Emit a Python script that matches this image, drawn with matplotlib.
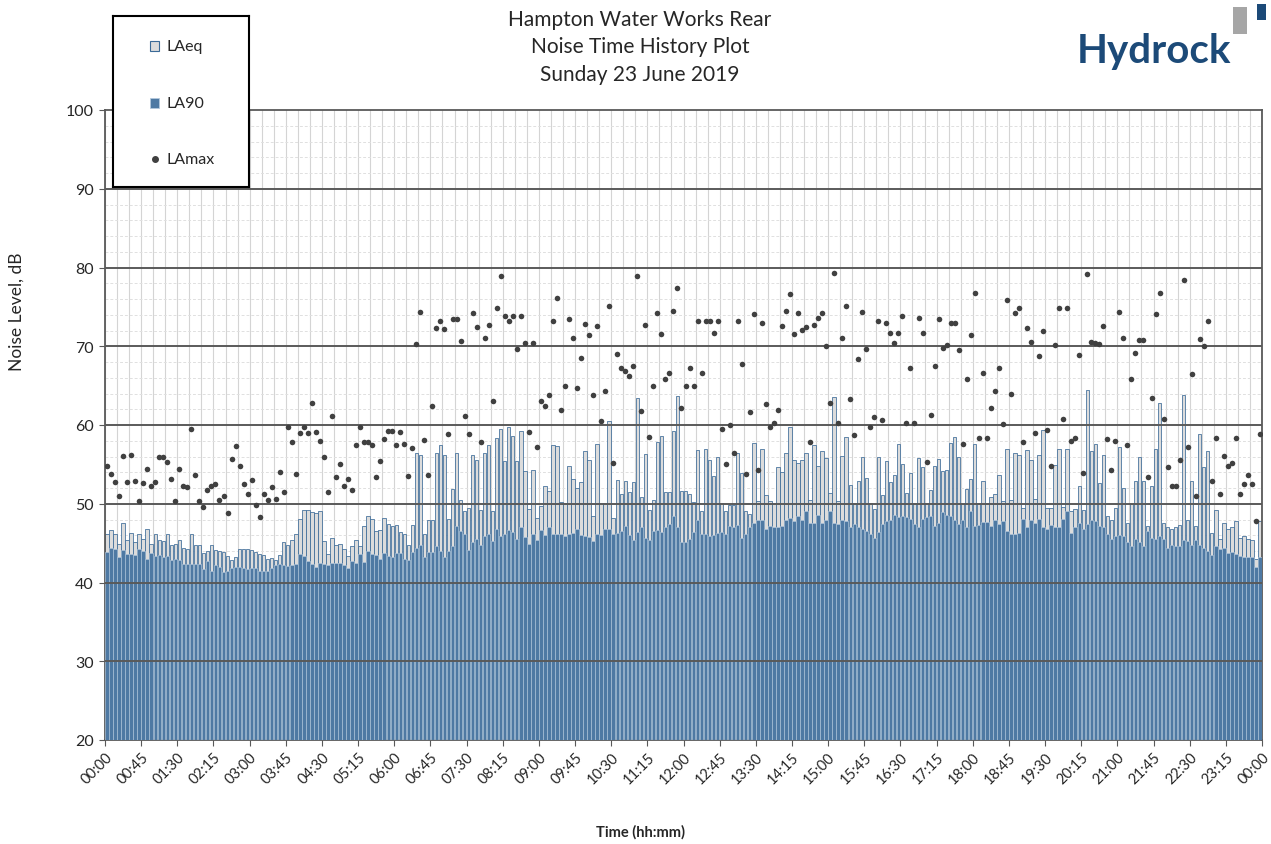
import numpy as np
import matplotlib
matplotlib.use('Agg')
import matplotlib.pyplot as plt
from matplotlib.patches import Rectangle

plt.rcParams['font.family'] = ['Lato', 'DejaVu Sans']

# 5-minute values, one row per hour
laeq = [
    46.1, 46.7, 46.2, 44.9, 47.5, 45.4, 46.3, 45.1, 46.2, 45.5, 46.8, 44.9,
    46.1, 45.4, 45.3, 46.1, 44.7, 44.9, 45.4, 44.4, 44.3, 46.2, 44.7, 44.7,
    43.8, 44.0, 44.7, 44.1, 44.0, 43.9, 43.4, 42.8, 43.3, 44.3, 44.2, 44.3,
    44.1, 43.9, 43.6, 43.5, 43.0, 43.1, 42.8, 43.5, 45.1, 44.7, 45.4, 46.1,
    48.1, 49.2, 49.2, 49.0, 48.8, 49.1, 45.3, 43.6, 45.6, 44.7, 44.9, 44.3,
    43.4, 44.6, 45.4, 44.6, 47.2, 48.4, 48.1, 46.5, 46.7, 48.2, 47.4, 47.2,
    47.3, 46.4, 46.2, 44.7, 47.3, 56.5, 56.2, 46.1, 48.0, 48.0, 56.5, 57.4,
    56.2, 48.1, 51.9, 56.5, 50.5, 49.1, 49.5, 56.2, 55.6, 49.2, 56.5, 57.4,
    49.1, 58.4, 59.5, 55.4, 59.8, 58.6, 55.4, 59.2, 54.1, 49.3, 54.3, 48.2,
    49.7, 52.2, 51.6, 57.4, 57.3, 50.2, 50.1, 54.8, 53.2, 52.0, 52.7, 56.7,
    55.5, 48.4, 57.6, 50.1, 50.1, 60.5, 48.2, 53.0, 51.3, 52.9, 51.5, 52.7,
    63.4, 50.8, 56.3, 49.2, 50.5, 57.9, 58.6, 51.5, 51.5, 59.3, 63.7, 51.6,
    51.6, 51.2, 50.2, 56.8, 49.1, 56.9, 55.6, 53.5, 56.0, 50.1, 49.1, 49.9,
    49.8, 56.5, 53.9, 49.1, 48.7, 57.7, 50.3, 56.9, 51.1, 50.4, 50.1, 54.7,
    54.0, 56.4, 59.7, 55.6, 55.2, 55.5, 56.5, 50.5, 57.4, 54.8, 56.7, 55.8,
    51.4, 63.5, 50.3, 56.1, 58.5, 52.4, 50.1, 52.9, 55.9, 53.3, 50.1, 49.3,
    55.9, 51.1, 55.4, 52.7, 53.6, 57.6, 55.0, 51.4, 53.9, 50.1, 55.8, 54.7,
    50.1, 51.8, 54.8, 55.7, 54.1, 54.3, 57.7, 58.5, 55.9, 50.0, 51.9, 53.1,
    57.6, 50.1, 52.9, 50.1, 50.8, 51.3, 53.6, 50.3, 56.9, 50.5, 56.5, 56.2,
    49.5, 56.8, 55.5, 50.6, 56.2, 59.4, 49.4, 49.5, 54.9, 56.9, 49.6, 57.0,
    49.1, 49.3, 52.3, 49.2, 64.4, 56.7, 57.6, 52.6, 56.2, 48.5, 48.0, 49.4,
    57.2, 52.0, 47.5, 50.0, 52.9, 55.9, 52.9, 47.2, 52.2, 56.9, 62.8, 47.5,
    47.0, 46.8, 47.0, 47.3, 63.8, 48.0, 52.9, 47.2, 58.8, 54.7, 56.7, 46.3,
    49.2, 45.5, 47.6, 46.8, 47.0, 47.8, 45.7, 45.9, 45.5, 45.4, 43.0, 47.8,
]

la90 = [
    43.9, 44.4, 44.2, 43.2, 44.1, 43.6, 43.6, 43.5, 44.3, 44.0, 43.0, 43.8,
    43.4, 43.5, 43.2, 43.4, 42.8, 43.0, 42.8, 42.3, 42.3, 42.3, 42.3, 42.3,
    41.7, 42.7, 41.5, 42.2, 42.0, 41.3, 41.4, 41.9, 42.0, 42.0, 41.9, 41.7,
    41.9, 41.8, 41.5, 41.4, 41.5, 41.8, 42.2, 42.4, 42.2, 42.1, 42.2, 42.3,
    43.6, 43.4, 42.7, 42.3, 42.0, 42.5, 42.3, 42.2, 42.5, 42.5, 42.5, 42.2,
    41.9, 42.7, 42.5, 43.6, 42.6, 44.0, 43.6, 43.5, 43.0, 43.7, 43.4, 43.2,
    43.7, 43.7, 43.0, 42.9, 43.9, 44.4, 44.7, 43.2, 43.9, 43.9, 44.6, 44.0,
    43.2, 44.0, 44.6, 47.2, 46.6, 46.1, 44.1, 45.1, 45.5, 44.7, 45.9, 46.2,
    45.3, 46.8, 45.9, 46.1, 46.7, 46.4, 45.5, 47.0, 45.8, 44.9, 46.1, 45.4,
    46.7, 46.0, 47.0, 46.1, 46.2, 46.1, 45.9, 46.2, 46.3, 46.8, 46.0, 45.9,
    45.8, 45.3, 46.2, 46.0, 46.8, 46.8, 46.2, 46.3, 46.5, 47.2, 46.0, 45.4,
    46.4, 47.0, 45.7, 45.4, 46.5, 46.7, 46.4, 47.0, 47.4, 48.5, 47.0, 45.1,
    45.1, 45.5, 46.4, 48.0, 46.2, 46.2, 45.9, 46.0, 46.3, 46.4, 46.2, 47.2,
    47.0, 47.3, 45.6, 46.1, 47.0, 47.6, 48.0, 48.0, 46.8, 47.2, 47.1, 47.0,
    47.2, 47.9, 48.2, 47.8, 48.5, 48.0, 49.1, 47.6, 47.6, 48.6, 47.6, 48.0,
    49.1, 47.6, 47.4, 47.9, 47.8, 47.0, 47.4, 47.0, 46.8, 46.5, 46.2, 45.7,
    46.4, 47.4, 47.8, 48.0, 48.6, 48.3, 48.5, 48.3, 48.1, 47.4, 47.1, 48.1,
    48.3, 48.4, 47.2, 47.6, 49.0, 48.6, 48.5, 48.0, 47.4, 48.0, 47.1, 49.1,
    47.2, 47.3, 47.7, 47.7, 47.2, 48.0, 47.4, 47.8, 46.5, 46.2, 46.2, 46.3,
    48.1, 47.0, 48.0, 47.5, 48.1, 47.0, 46.8, 47.3, 47.0, 47.0, 48.1, 49.1,
    46.3, 47.0, 47.6, 46.8, 47.4, 47.9, 47.8, 47.2, 47.1, 46.2, 45.5, 45.9,
    46.0, 45.9, 45.1, 44.6, 45.5, 45.1, 44.6, 46.6, 45.7, 45.5, 45.9, 45.5,
    44.4, 44.7, 44.6, 44.6, 45.4, 45.3, 44.8, 45.4, 44.8, 44.4, 44.0, 43.5,
    44.6, 44.2, 44.4, 43.8, 43.9, 43.6, 43.4, 43.2, 43.3, 43.3, 42.0, 43.2,
]

lamax = [
    54.8, 53.8, 52.7, 51.0, 56.1, 52.7, 56.2, 52.9, 50.3, 52.6, 54.4, 52.3,
    52.7, 56.0, 55.9, 55.3, 53.2, 50.4, 54.4, 52.2, 52.1, 59.5, 53.6, 50.3,
    49.6, 51.8, 52.2, 52.5, 50.5, 51.0, 48.8, 55.7, 57.3, 54.8, 52.5, 51.2,
    53.0, 49.8, 48.3, 51.3, 50.5, 52.1, 50.6, 54.0, 51.5, 59.7, 57.8, 53.8,
    59.0, 59.7, 59.0, 62.8, 59.1, 58.0, 55.9, 51.5, 61.1, 53.4, 55.0, 52.2,
    53.1, 51.8, 57.5, 59.8, 57.8, 57.8, 57.5, 53.4, 55.4, 58.2, 59.2, 59.2,
    57.4, 59.1, 57.6, 53.5, 57.1, 70.3, 74.4, 58.1, 53.7, 62.4, 72.3, 73.2,
    72.2, 58.8, 73.5, 73.5, 70.7, 61.2, 58.9, 74.2, 72.5, 57.9, 71.1, 72.7,
    63.0, 74.9, 78.9, 73.9, 73.2, 73.9, 69.7, 73.9, 70.4, 59.1, 70.4, 57.2,
    63.1, 62.4, 63.8, 73.2, 76.1, 61.9, 64.9, 73.4, 71.1, 64.7, 68.5, 72.8,
    71.4, 63.8, 72.6, 60.5, 64.3, 75.1, 55.2, 69.0, 67.3, 66.9, 66.2, 67.5,
    78.9, 61.8, 72.7, 58.5, 65.0, 74.2, 71.5, 65.8, 66.6, 74.5, 77.4, 62.1,
    64.9, 67.3, 65.0, 73.2, 66.6, 73.2, 73.2, 71.7, 73.2, 59.5, 55.1, 60.0,
    56.5, 73.2, 67.8, 53.8, 61.7, 74.1, 54.3, 73.0, 62.7, 59.8, 60.3, 61.9,
    72.6, 74.5, 76.6, 71.5, 74.2, 72.1, 72.4, 57.8, 72.7, 73.6, 74.2, 70.0,
    62.8, 79.3, 60.3, 71.1, 75.1, 63.3, 58.7, 68.4, 74.3, 69.7, 59.7, 61.0,
    73.2, 60.6, 72.9, 71.7, 70.4, 71.7, 73.8, 60.3, 67.3, 60.3, 73.6, 71.7,
    55.3, 61.3, 67.5, 73.4, 69.8, 70.1, 73.0, 72.9, 69.5, 57.6, 65.8, 71.4,
    76.8, 58.4, 66.6, 58.4, 62.2, 64.3, 67.3, 60.1, 75.9, 63.9, 74.2, 74.9,
    57.8, 72.3, 70.6, 59.0, 68.7, 71.9, 59.4, 54.8, 70.2, 74.9, 60.8, 74.9,
    58.0, 58.4, 68.9, 53.9, 79.2, 70.6, 70.4, 70.3, 72.6, 58.2, 54.3, 58.0,
    74.4, 71.1, 57.5, 65.9, 69.1, 70.8, 70.8, 53.4, 63.4, 74.1, 76.8, 60.8,
    54.7, 52.2, 52.3, 55.5, 78.4, 57.2, 66.5, 51.0, 70.9, 70.0, 73.2, 52.9,
    58.4, 51.2, 56.1, 54.8, 55.2, 58.4, 51.2, 52.5, 53.6, 52.5, 47.8, 58.8,
]

time_labels = ['00:00', '00:45', '01:30', '02:15', '03:00', '03:45', '04:30',
               '05:15', '06:00', '06:45', '07:30', '08:15', '09:00', '09:45',
               '10:30', '11:15', '12:00', '12:45', '13:30', '14:15', '15:00',
               '15:45', '16:30', '17:15', '18:00', '18:45', '19:30', '20:15',
               '21:00', '21:45', '22:30', '23:15', '00:00']

W, H = 1271, 845
fig = plt.figure(figsize=(W / 100, H / 100), dpi=100)
ax = fig.add_axes([105 / W, 1 - 741 / H, 1157 / W, 630 / H])

base = 20
x = np.arange(len(laeq)) + 0.5
ax.bar(x, np.array(laeq) - base, bottom=base, width=0.85,
       color='#dcdcdc', edgecolor='#3b6a97', linewidth=0.55, zorder=2)
ax.bar(x, np.array(la90) - base, bottom=base, width=0.85,
       color='#4e79a3', edgecolor='#b3c8dc', linewidth=0.45, zorder=3)
ax.scatter(x, lamax, s=16, color='#404040', linewidths=0, zorder=6)

ax.set_xlim(0, len(laeq))
ax.set_ylim(20, 100)

# grid
ax.set_yticks(range(20, 101, 10))
ax.set_yticks(range(20, 101, 2), minor=True)
ax.set_xticks(np.arange(0, len(laeq) + 1, 9))
ax.set_xticks(np.arange(0, len(laeq) + 1, 3), minor=True)
ax.set_axisbelow(True)
ax.grid(axis='x', which='both', color='#d4d4d4', linewidth=0.8)
ax.grid(axis='y', which='minor', color='#e0e0e0', linewidth=0.7,
        linestyle=(0, (3, 2)))
for v in range(30, 100, 10):
    ax.axhline(v, color='#5a5a5a', linewidth=1.4, zorder=4)

for s in ax.spines.values():
    s.set_color('#595959')
    s.set_linewidth(1.3)

ax.set_xticklabels(time_labels, rotation=45, ha='right',
                   rotation_mode='anchor', fontsize=10.5, color='#262626')
ax.tick_params(axis='x', which='major', length=4, color='#595959', pad=3)
ax.tick_params(axis='x', which='minor', length=0)
ax.tick_params(axis='y', which='major', length=4, color='#595959',
               labelsize=11.5, labelcolor='#262626', pad=4)
ax.tick_params(axis='y', which='minor', length=0)

fig.text(17 / W, 1 - 312 / H, 'Noise Level, dB', rotation=90,
         ha='center', va='center', fontsize=12.5, color='#262626')
fig.text(640 / W, 1 - 832 / H, 'Time (hh:mm)', ha='center', va='center',
         fontsize=10.5, fontweight='bold', color='#262626')

# title
for txt, yp in [('Hampton Water Works Rear', 20),
                ('Noise Time History Plot', 47),
                ('Sunday 23 June 2019', 75)]:
    fig.text(640 / W, 1 - yp / H, txt, ha='center', va='center',
             fontsize=15, color='#262626')

# legend box
lax = fig.add_axes([113 / W, 1 - 188 / H, 136 / W, 171 / H])
lax.set_xlim(0, 136)
lax.set_ylim(171, 0)
lax.set_xticks([])
lax.set_yticks([])
for s in lax.spines.values():
    s.set_color('black')
    s.set_linewidth(1.5)
lax.add_patch(Rectangle((37, 25), 9, 10, facecolor='#dcdcdc',
                        edgecolor='#3b6a97', linewidth=0.8))
lax.text(53, 30, 'LAeq', va='center', fontsize=11.5, color='#262626')
lax.add_patch(Rectangle((37, 82), 9, 10, facecolor='#4e79a3',
                        edgecolor='#b3c8dc', linewidth=0.6))
lax.text(53, 87, 'LA90', va='center', fontsize=11.5, color='#262626')
lax.plot([41.5], [143], 'o', color='#404040', markersize=4)
lax.text(53, 143, 'LAmax', va='center', fontsize=11.5, color='#262626')

# logo
fig.text(1154 / W, 1 - 52 / H, 'Hydrock', ha='center', va='center',
         fontsize=29, fontweight='bold', color='#1c4a78')
fig.patches.append(Rectangle((1233 / W, 1 - 35 / H), 14 / W, 27 / H,
                             facecolor='#a6a6a6', edgecolor='none',
                             transform=fig.transFigure, figure=fig))
fig.patches.append(Rectangle((1257 / W, 1 - 21 / H), 9 / W, 16 / H,
                             facecolor='#1c4a78', edgecolor='none',
                             transform=fig.transFigure, figure=fig))

fig.savefig('out.png', dpi=100)
